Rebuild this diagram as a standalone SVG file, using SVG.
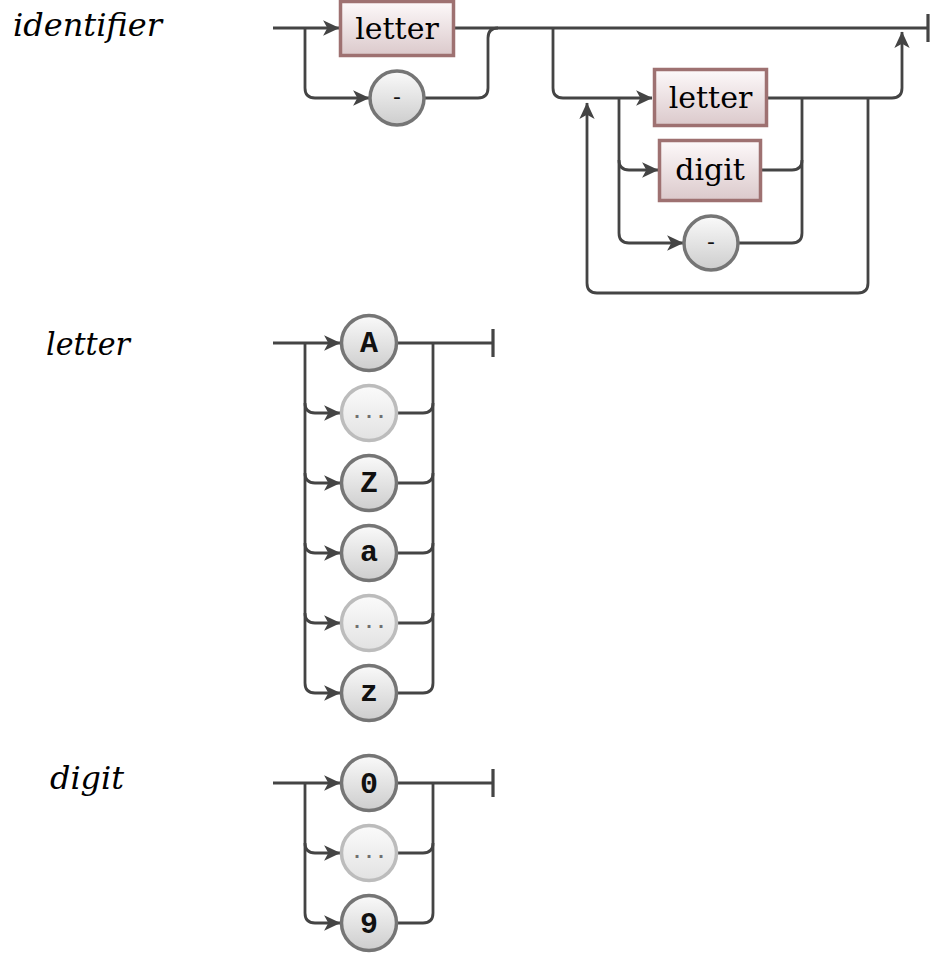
<svg xmlns="http://www.w3.org/2000/svg" width="944" height="967" viewBox="0 0 944 967">
<style>
.ln{fill:none;stroke:#444;stroke-width:2.8;stroke-linejoin:round}
.arr{marker-end:url(#ah)}
.bar{stroke:#444;stroke-width:3.2;fill:none}
.nt{fill:url(#gbox);stroke:#9e7171;stroke-width:3.5}
.tm{fill:url(#gcir);stroke:#757575;stroke-width:3.5}
.tg{fill:url(#ggry);stroke:#bcbcbc;stroke-width:3.5}
.lbl{font-family:"DejaVu Serif",serif;font-style:italic;font-size:32px;fill:#000}
.bt{font-family:"DejaVu Serif",serif;font-size:30px;fill:#000;text-anchor:middle}
.ct{font-family:"Liberation Mono",monospace;font-weight:bold;font-size:30px;fill:#111;text-anchor:middle}
.dots{font-family:"Liberation Mono",monospace;font-weight:bold;font-size:20px;fill:#6f6f6f;text-anchor:middle}
.dash{font-family:"DejaVu Sans",sans-serif;font-size:22px;fill:#111;text-anchor:middle}
</style>
<defs>
<linearGradient id="gbox" x1="0" y1="0" x2="0" y2="1"><stop offset="0" stop-color="#fdf9fa"/><stop offset="1" stop-color="#dbc9cb"/></linearGradient>
<linearGradient id="gcir" x1="0" y1="0" x2="0" y2="1"><stop offset="0" stop-color="#fafafa"/><stop offset="1" stop-color="#cdcdcd"/></linearGradient>
<linearGradient id="ggry" x1="0" y1="0" x2="0" y2="1"><stop offset="0" stop-color="#fbfbfb"/><stop offset="1" stop-color="#e2e2e2"/></linearGradient>
<marker id="ah" viewBox="0 0 16 16" refX="15.5" refY="8" markerWidth="17" markerHeight="17" markerUnits="userSpaceOnUse" orient="auto"><path d="M0.5,0.8 L16,8 L0.5,15.2 L4.5,8 z" fill="#444"/></marker>
</defs>

<g id="labels">
<text class="lbl" x="13" y="36">identifier</text>
<text class="lbl" x="46" y="355" textLength="84" lengthAdjust="spacingAndGlyphs">letter</text>
<text class="lbl" x="50" y="789" textLength="74" lengthAdjust="spacingAndGlyphs">digit</text>
</g>

<g id="connectors">
<!-- identifier -->
<path class="ln arr" d="M273,28 H339"/>
<path class="ln arr" d="M305,28 V88 Q305,98 315,98 H369"/>
<path class="ln" d="M424,98 H478 Q488,98 488,88 V38 Q488,28 498,28"/>
<path class="ln" d="M455,28 H928"/>
<path class="bar" d="M928,14 V42"/>
<path class="ln arr" d="M553,28 V88 Q553,98 563,98 H652"/>
<path class="ln arr" d="M619,98 V160 Q619,170 629,170 H658"/>
<path class="ln arr" d="M619,160 V233 Q619,243 629,243 H683"/>
<path class="ln arr" d="M767,98 H892 Q902,98 902,88 V32"/>
<path class="ln" d="M761,170 H792 Q802,170 802,160 V98"/>
<path class="ln" d="M738,243 H792 Q802,243 802,233 V160"/>
<path class="ln arr" d="M868,98 V283 Q868,293 858,293 H597 Q587,293 587,283 V103"/>
<!-- letter -->
<path class="ln arr" d="M273,343 H340"/>
<path class="ln arr" d="M305,343 V403 Q305,413 315,413 H340"/>
<path class="ln arr" d="M305,403 V473 Q305,483 315,483 H340"/>
<path class="ln arr" d="M305,473 V543 Q305,553 315,553 H340"/>
<path class="ln arr" d="M305,543 V613 Q305,623 315,623 H340"/>
<path class="ln arr" d="M305,613 V683 Q305,693 315,693 H340"/>
<path class="ln" d="M397,343 H493"/>
<path class="ln" d="M397,413 H423 Q433,413 433,403 V343"/>
<path class="ln" d="M397,483 H423 Q433,483 433,473 V403"/>
<path class="ln" d="M397,553 H423 Q433,553 433,543 V473"/>
<path class="ln" d="M397,623 H423 Q433,623 433,613 V543"/>
<path class="ln" d="M397,693 H423 Q433,693 433,683 V613"/>
<path class="bar" d="M493,329 V357"/>
<!-- digit -->
<path class="ln arr" d="M273,783 H340"/>
<path class="ln arr" d="M305,783 V843 Q305,853 315,853 H340"/>
<path class="ln arr" d="M305,843 V913 Q305,923 315,923 H340"/>
<path class="ln" d="M397,783 H493"/>
<path class="ln" d="M397,853 H423 Q433,853 433,843 V783"/>
<path class="ln" d="M397,923 H423 Q433,923 433,913 V843"/>
<path class="bar" d="M493,769 V797"/>
</g>

<!-- identifier nodes -->
<g id="id-letter"><rect class="nt" x="340.5" y="1.5" width="113" height="54"/><text class="bt" x="397" y="39">letter</text></g>
<g id="id-dash1"><circle class="tm" cx="397" cy="98" r="27"/><text class="dash" x="397" y="104">-</text></g>
<g id="id-letter2"><rect class="nt" x="654.5" y="69.5" width="112" height="56"/><text class="bt" x="710.5" y="108">letter</text></g>
<g id="id-digit"><rect class="nt" x="659.5" y="140.5" width="101" height="60"/><text class="bt" x="710" y="180">digit</text></g>
<g id="id-dash2"><circle class="tm" cx="711" cy="243" r="27"/><text class="dash" x="711" y="249">-</text></g>

<!-- letter nodes -->
<g id="l-A"><circle class="tm" cx="369" cy="343" r="27.5"/><text class="ct" x="369" y="352">A</text></g>
<g id="l-dots1"><circle class="tg" cx="369" cy="413" r="27.5"/><text class="dots" x="369" y="418">...</text></g>
<g id="l-Z"><circle class="tm" cx="369" cy="483" r="27.5"/><text class="ct" x="369" y="492">Z</text></g>
<g id="l-a"><circle class="tm" cx="369" cy="553" r="27.5"/><text class="ct" x="369" y="561">a</text></g>
<g id="l-dots2"><circle class="tg" cx="369" cy="623" r="27.5"/><text class="dots" x="369" y="628">...</text></g>
<g id="l-z"><circle class="tm" cx="369" cy="693" r="27.5"/><text class="ct" x="369" y="701">z</text></g>

<!-- digit nodes -->
<g id="d-0"><circle class="tm" cx="369" cy="783" r="27.5"/><text class="ct" x="369" y="793">0</text></g>
<g id="d-dots"><circle class="tg" cx="369" cy="853" r="27.5"/><text class="dots" x="369" y="858">...</text></g>
<g id="d-9"><circle class="tm" cx="369" cy="923" r="27.5"/><text class="ct" x="369" y="933">9</text></g>
</svg>
